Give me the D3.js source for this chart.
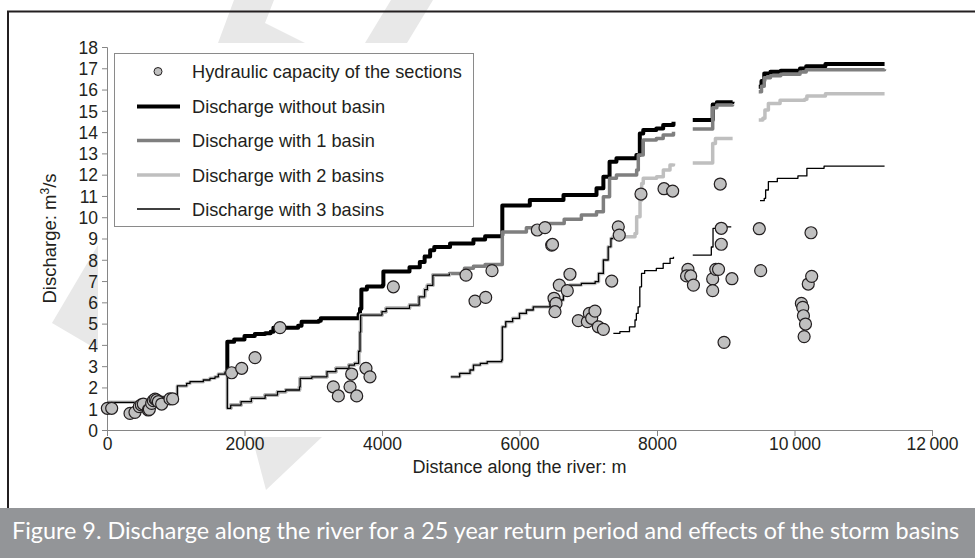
<!DOCTYPE html>
<html>
<head>
<meta charset="utf-8">
<script src="https://cdn.jsdelivr.net/npm/d3@7"></script>
<style>
  html, body { margin: 0; padding: 0; background: #fff; }
  svg { display: block; }
</style>
</head>
<body>
<svg id="chart" width="975" height="558"></svg>
<script>
// ---------- DATA ----------
const legendLabels = [
  "Hydraulic capacity of the sections",
  "Discharge without basin",
  "Discharge with 1 basin",
  "Discharge with 2 basins",
  "Discharge with 3 basins"
];
const xTickValues = [0, 2000, 4000, 6000, 8000, 10000, 12000];
const xTickLabels = ["0", "2000", "4000", "6000", "8000", "10\u2009000", "12\u2009000"];
const yTickValues = [0,1,2,3,4,5,6,7,8,9,10,11,12,13,14,15,16,17,18];
const xTitle = "Distance along the river: m";
const captionText = "Figure 9. Discharge along the river for a 25 year return period and effects of the storm basins";

// hydraulic capacity of the sections [distance m, discharge m3/s]
const capacity = [
  [5,1.02],[68,1.02],[335,0.78],[407,0.83],[470,1.1],[500,1.18],[528,1.22],[601,0.94],[616,0.97],
  [650,1.25],[674,1.38],[700,1.45],[722,1.41],[747,1.33],[795,1.22],[916,1.46],[955,1.46],
  [1813,2.69],[1959,2.9],[2153,3.4],[2516,4.81],[3292,2.03],[3365,1.6],[3535,2.03],[3559,2.63],
  [3632,1.6],[3767,2.9],[3825,2.5],[4165,6.73],[5222,7.28],[5353,6.06],[5508,6.23],[5600,7.49],
  [6259,9.4],[6371,9.51],[6468,8.69],[6480,8.72],[6502,6.19],[6531,5.95],[6516,5.56],[6579,6.81],
  [6695,6.55],[6734,7.32],[6856,5.14],[6987,5.09],[7016,5.48],[7050,5.25],[7098,5.59],[7147,4.85],
  [7220,4.73],[7341,7.0],[7437,9.55],[7451,9.16],[7767,11.09],[8102,11.34],[8228,11.23],
  [8450,7.55],[8430,7.24],[8490,7.24],[8530,6.81],[8810,7.1],[8810,6.55],[8855,7.55],[8895,7.55],
  [9090,7.11],[8975,4.12],[8920,11.56],[8935,9.48],[8935,8.73],[9488,9.46],[9508,7.49],
  [10100,5.95],[10120,5.76],[10130,5.37],[10160,4.98],[10140,4.39],[10200,6.86],[10250,7.22],[10240,9.27]
];

// discharge profile pieces shared by several runs (step profiles)
const upstreamAll = [
  [0,1.3],[600,1.4],[700,1.55],[1023,2.07],[1159,2.19],[1207,2.27],[1401,2.35],[1498,2.43],
  [1571,2.5],[1619,2.63],[1716,2.72],[1740,2.72]
];
const belowBasin1 = [
  [1750,1.02],[1800,1.17],[1950,1.33],[2100,1.49],[2300,1.64],[2480,1.8],[2600,1.88],[2800,2.03],
  [2810,2.43],[2980,2.5],[3200,2.74],[3330,2.9],[3520,3.05],[3600,3.13],[3660,3.7],[3680,4.6]
];
const afterConfluence = [
  [3690,5.4],[4000,5.56],[4060,5.72],[4400,5.87],[4540,6.26],[4620,6.6],[4660,6.8],[4740,7.28],[4980,7.36]
];
const belowBasin2 = [
  [5000,2.5],[5130,2.66],[5280,2.82],[5330,3.05],[5430,3.13],[5530,3.21],[5740,3.29],[5750,4.85],
  [5800,5.09],[5900,5.25],[6000,5.48],[6100,5.64],[6200,5.79],[6444,6.11],[6638,6.42],[6734,6.81],
  [6900,6.89],[7100,6.97],[7150,7.36],[7220,7.99],[7290,8.61],[7330,9.0],[7360,9.0]
];

const noBasin = [
  [1740,2.72],[1750,4.15],[1850,4.25],[2000,4.42],[2150,4.51],[2300,4.55],[2380,4.62],[2420,4.8],
  [2780,4.9],[2830,5.09],[3080,5.14],[3110,5.25],[3660,5.45],[3680,5.7],[3700,6.6],[3780,6.75],
  [4010,6.8],[4020,7.45],[4400,7.65],[4550,7.9],[4620,8.15],[4700,8.45],[4760,8.6],[4990,8.77],
  [5330,8.95],[5500,9.1],[5740,9.15],[5750,10.55],[6150,10.81],[6640,11.04],[7120,11.36],
  [7220,11.9],[7310,12.61],[7410,12.77],[7700,12.92],[7750,13.94],[7800,14.1],[7990,14.17],
  [8090,14.33],[8240,14.49],
  null,
  [8520,14.57],[8810,15.3],[8870,15.4],[9100,15.43],
  null,
  [9480,16.13],[9520,16.4],[9560,16.76],[9650,16.84],[9800,16.88],[10080,16.99],[10170,17.1],
  [10450,17.2],[11310,17.2]
];
const oneBasinOwn = [
  [5200,7.6],[5330,7.7],[5500,7.78],[5750,9.3],[6100,9.5],[6400,9.7],[6650,9.9],[6900,10.1],
  [7120,10.26],[7220,10.96],[7310,11.83],[7410,11.98],[7704,12.22],[7728,12.92],[7800,13.63],
  [7990,13.7],[8090,13.86],[8240,14.02],
  null,
  [8520,14.15],[8810,15.15],[8870,15.27],[9100,15.3],
  null,
  [9480,15.9],[9520,16.15],[9560,16.55],[9650,16.65],[9800,16.72],[10080,16.82],[10170,16.93],
  [11310,16.95]
];
const twoBasinOwn = [
  [7360,9.08],[7680,9.24],[7704,10.02],[7753,10.8],[7777,11.59],[7800,11.83],[7995,11.9],
  [8092,12.22],[8189,12.45],[8240,12.53],
  null,
  [8520,12.55],[8810,13.47],[8850,13.7],[9100,13.7],
  null,
  [9480,14.57],[9540,14.65],[9570,15.04],[9620,15.35],[9790,15.5],[10150,15.54],[10180,15.7],
  [10450,15.8],[11310,15.8]
];
const threeBasinOwn = [
  [7365,4.54],[7460,4.62],[7600,4.85],[7680,5.17],[7700,5.48],[7725,5.79],[7750,6.73],[7775,7.36],
  [7820,7.49],[7990,7.6],[8090,7.83],[8190,8.07],[8240,8.14],
  null,
  [8520,8.22],[8790,8.6],[8815,9.48],[8870,9.55],[9080,9.55],
  null,
  [9498,10.78],[9560,10.89],[9580,11.28],[9620,11.67],[9750,11.83],[10050,11.94],[10180,12.3],
  [10430,12.4],[11310,12.4]
];

const withoutBasin = noBasin;
const with1Basin = belowBasin1.concat(afterConfluence, oneBasinOwn);
const with2Basins = upstreamAll.concat(belowBasin1, afterConfluence, [null], belowBasin2, twoBasinOwn);
const with3Basins = upstreamAll.concat(belowBasin1, afterConfluence, [null], belowBasin2, [null], threeBasinOwn);

// ---------- DRAW ----------
const svg = d3.select("#chart");
const W = 975, H = 558;
const FONT = "'Liberation Sans', Arial, sans-serif";

// watermark pieces (decoration outside the plot area)
const wm = svg.append("g").attr("fill", "#e8e8e8");
[
  [[234,0],[274,0],[265,23],[305,43],[218,43]],
  [[391,0],[433,0],[407,43],[365,43]],
  [[52,323],[98,245],[98,350]],
  [[252,437],[322,437],[266,490]]
].forEach(p => wm.append("polygon").attr("points", p.map(q => q.join(",")).join(" ")));

// frame
svg.append("line").attr("x1", 7).attr("x2", W).attr("y1", 11.5).attr("y2", 11.5)
  .attr("stroke", "#231f20").attr("stroke-width", 2);
svg.append("line").attr("x1", 8).attr("x2", 8).attr("y1", 11).attr("y2", 508)
  .attr("stroke", "#231f20").attr("stroke-width", 2);

// caption bar
svg.append("rect").attr("x", 0).attr("y", 508).attr("width", W).attr("height", 50).attr("fill", "#939598");
const cap = svg.append("text").attr("x", 12).attr("y", 539)
  .attr("fill", "#fff").attr("font-family", "Lato, 'Open Sans', sans-serif").attr("font-size", 20.5)
  .text(captionText);
const capLen = cap.node().getComputedTextLength();
if (capLen > 0) cap.attr("font-size", 20.5 * 948 / capLen);

const x = d3.scaleLinear().domain([0, 12000]).range([107, 932]);
const y = d3.scaleLinear().domain([0, 18]).range([430, 47]);

// axes
const xAxis = svg.append("g").attr("transform", `translate(0,${y(0)})`)
  .call(d3.axisBottom(x).tickValues(xTickValues).tickFormat((d, i) => xTickLabels[i]).tickSize(6).tickPadding(2));
const yAxis = svg.append("g").attr("transform", `translate(${x(0)},0)`)
  .call(d3.axisLeft(y).tickValues(yTickValues).tickFormat(d3.format("d")).tickSize(5).tickPadding(4));
[xAxis, yAxis].forEach(a => {
  a.select(".domain").attr("stroke", "#868686");
  a.selectAll(".tick line").attr("stroke", "#868686");
  a.selectAll(".tick text").attr("fill", "#231f20").attr("font-family", FONT).attr("font-size", 17.5);
});
yAxis.selectAll(".tick text").attr("dy", "0.36em");

// axis titles
svg.append("text").attr("x", (x(0) + x(12000)) / 2).attr("y", 472.5).attr("text-anchor", "middle")
  .attr("fill", "#231f20").attr("font-family", FONT).attr("font-size", 18).text(xTitle);
const yt = svg.append("text").attr("transform", `translate(56,${(y(0) + y(18)) / 2}) rotate(-90)`)
  .attr("text-anchor", "middle").attr("fill", "#231f20").attr("font-family", FONT).attr("font-size", 18.5);
yt.append("tspan").text("Discharge: m");
yt.append("tspan").attr("dy", -7).attr("font-size", 12).text("3");
yt.append("tspan").attr("dy", 7).text("/s");

// series
const line = d3.line().defined(d => d).x(d => x(d[0])).y(d => y(d[1])).curve(d3.curveStepAfter);
const styles = [
  { data: withoutBasin, color: "#000000", width: 4 },
  { data: with1Basin, color: "#7f7f7f", width: 3.5 },
  { data: with2Basins, color: "#bfbfbf", width: 3.5 },
  { data: with3Basins, color: "#000000", width: 1.3 }
];
styles.forEach(s => {
  svg.append("path").datum(s.data).attr("d", line).attr("fill", "none")
    .attr("stroke", s.color).attr("stroke-width", s.width).attr("stroke-linejoin", "round");
});

// capacity points
svg.append("g").selectAll("circle").data(capacity).join("circle")
  .attr("cx", d => x(d[0])).attr("cy", d => y(d[1])).attr("r", 6)
  .attr("fill", "#c0c0c0").attr("stroke", "#231f20").attr("stroke-width", 1.2);

// legend
const lg = svg.append("g");
lg.append("rect").attr("x", 114.5).attr("y", 53.5).attr("width", 359).attr("height", 173)
  .attr("fill", "#fff").attr("stroke", "#8a8a8a").attr("stroke-width", 1);
const rowY = [71.5, 106.5, 140.5, 175, 209];
legendLabels.forEach((lab, i) => {
  if (i === 0) {
    lg.append("circle").attr("cx", 158).attr("cy", rowY[i]).attr("r", 4)
      .attr("fill", "#c0c0c0").attr("stroke", "#231f20").attr("stroke-width", 1);
  } else {
    const s = styles[i - 1];
    lg.append("line").attr("x1", 137).attr("x2", 180).attr("y1", rowY[i]).attr("y2", rowY[i])
      .attr("stroke", s.color).attr("stroke-width", s.width);
  }
  lg.append("text").attr("x", 192).attr("y", rowY[i]).attr("dy", "0.36em")
    .attr("fill", "#231f20").attr("font-family", FONT).attr("font-size", 18.2).text(lab);
});
</script>
</body>
</html>
